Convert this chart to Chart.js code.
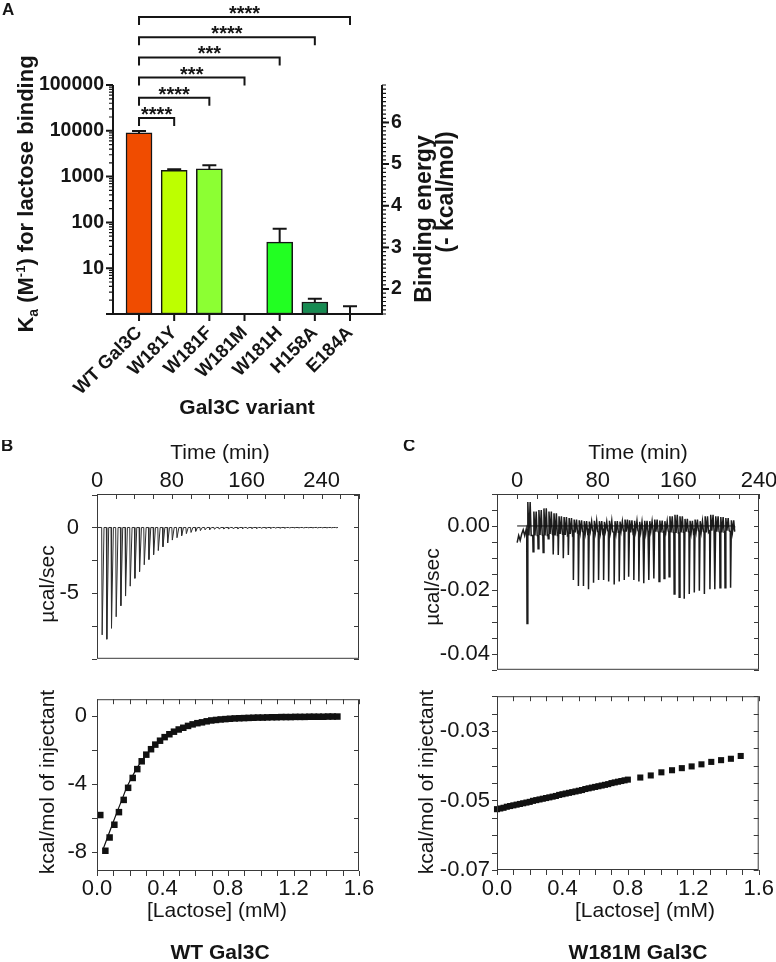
<!DOCTYPE html>
<html>
<head>
<meta charset="utf-8">
<script src="https://cdn.jsdelivr.net/npm/chart.js@4.4.1/dist/chart.umd.min.js"></script>
<style>
  html, body { margin: 0; padding: 0; background: #fff; width: 776px; height: 962px; overflow: hidden; }
  canvas { position: absolute; }
</style>
</head>
<body>
<canvas id="panelA" width="470" height="430" style="left:0px;top:0px"></canvas>
<canvas id="bTop" width="390" height="250" style="left:0px;top:440px"></canvas>
<canvas id="bBot" width="390" height="286" style="left:0px;top:676px"></canvas>
<canvas id="cTop" width="390" height="250" style="left:390px;top:440px"></canvas>
<canvas id="cBot" width="390" height="286" style="left:390px;top:676px"></canvas>
<script>
// ---- panel A : association constants ----
const variants = ['WT Gal3C', 'W181Y', 'W181F', 'W181M', 'W181H', 'H158A', 'E184A'];
const kaMean = [9000, 1370, 1470, null, 37, 1.83, null];
const kaErrTop = [9900, 1440, 1760, null, 73, 2.16, 1.47];
const barColors = ['#f04c00', '#bdff00', '#8cff33', '#55ff55', '#22ff22', '#178b52', '#0b5e33'];
const sigVs = ['W181Y', 'W181F', 'W181M', 'W181H', 'H158A', 'E184A'];
const sigStars = ['****', '****', '***', '***', '****', '****'];
const kaTicks = [10, 100, 1000, 10000, 100000];
const energyTicks = [2, 3, 4, 5, 6];

// ---- panel B : WT Gal3C ITC ----
const bInjTime = [5, 10, 15, 20, 25, 30, 35, 40, 45, 50, 55, 60, 65, 70, 75, 80, 85, 90, 95, 100,
  105, 110, 115, 120, 125, 130, 135, 140, 145, 150, 155, 160, 165, 170, 175, 180, 185, 190, 195, 200,
  205, 210, 215, 220, 225, 230, 235, 240, 245, 250, 255];
const bPeak = [-8.18, -8.51, -7.67, -6.80, -5.96, -5.22, -4.47, -3.87, -3.36, -2.84, -2.44, -2.07, -1.76,
  -1.47, -1.18, -0.96, -0.78, -0.62, -0.47, -0.38, -0.29, -0.24, -0.18, -0.16, -0.13, -0.12, -0.11,
  -0.10, -0.09, -0.09, -0.08, -0.08, -0.07, -0.07, -0.06, -0.06, -0.06, -0.05, -0.05, -0.05, -0.04,
  -0.04, -0.04, -0.04, -0.03, -0.03, -0.03, -0.03, -0.03, -0.02, -0.02];
const bTraceSpan = [0.7, 257];
const bConc = [0.020, 0.051, 0.077, 0.106, 0.134, 0.163, 0.190, 0.218, 0.246, 0.273, 0.301, 0.330, 0.356,
  0.385, 0.413, 0.442, 0.470, 0.499, 0.527, 0.556, 0.584, 0.613, 0.641, 0.670, 0.698, 0.727, 0.755,
  0.784, 0.812, 0.841, 0.869, 0.898, 0.926, 0.955, 0.983, 1.012, 1.040, 1.069, 1.097, 1.126, 1.154,
  1.183, 1.211, 1.240, 1.268, 1.297, 1.325, 1.354, 1.382, 1.411, 1.439, 1.468];
const bHeat = [-5.81, -7.91, -7.13, -6.38, -5.64, -4.92, -4.21, -3.63, -3.11, -2.65, -2.26, -1.94, -1.67,
  -1.44, -1.23, -1.06, -0.91, -0.78, -0.68, -0.57, -0.48, -0.41, -0.36, -0.30, -0.25, -0.22, -0.19,
  -0.17, -0.15, -0.13, -0.12, -0.11, -0.10, -0.09, -0.08, -0.08, -0.07, -0.06, -0.06, -0.05, -0.05,
  -0.05, -0.04, -0.04, -0.04, -0.03, -0.03, -0.03, -0.03, -0.02, -0.02, -0.02];
const bFitConc = [0.040, 0.065, 0.093, 0.122, 0.152, 0.180, 0.210, 0.240, 0.270, 0.300, 0.350, 0.400,
  0.450, 0.500, 0.600, 0.700, 0.800, 1.000, 1.200, 1.480];
const bFitHeat = [-7.75, -7.10, -6.38, -5.64, -4.92, -4.21, -3.63, -3.11, -2.65, -2.26, -1.73, -1.32,
  -1.03, -0.78, -0.45, -0.26, -0.16, -0.08, -0.05, -0.03];

// ---- panel C : W181M Gal3C ITC ----
const cPreTime = [0, 1.5, 3, 4.5, 6, 7.5, 9];
const cPreVal = [-0.0052, -0.0030, -0.0045, -0.0025, -0.0012, -0.0030, -0.0010];
const cInjTime = [9.5, 15.5, 20.5, 25.5, 30.5, 35.5, 40.5, 45.5, 50.5, 55.5, 60.5, 65.5, 70.5, 75.5,
  80.5, 85.5, 90.5, 96, 101, 106, 110.5, 115.5, 120.5, 125.5, 130.5, 135.5, 140.5, 145.5, 150.5, 155.5,
  160.5, 165.5, 170.5, 175.5, 180.5, 185.5, 191, 196, 201, 206, 211.5];
const cPeak = [-0.0305, -0.0081, -0.0071, -0.0083, -0.0040, -0.0089, -0.0091, -0.0101, -0.0091, -0.0169,
  -0.0188, -0.0188, -0.0198, -0.0178, -0.0169, -0.0169, -0.0174, -0.0183, -0.0174, -0.0169,
  -0.0159, -0.0169, -0.0174, -0.0179, -0.0169, -0.0164, -0.0174, -0.0164, -0.0159, -0.0213,
  -0.0223, -0.0228, -0.0213, -0.0208, -0.0203, -0.0213, -0.0198, -0.0198, -0.0193, -0.0193, -0.0193];
const cHi = [0.0075, 0.0045, 0.0050, 0.0055, 0.0045, 0.0040, 0.0030, 0.0028, 0.0025, 0.0020,
  0.0018, 0.0015, 0.0014, 0.0016, 0.0015, 0.0013, 0.0016, 0.0015, 0.0014, 0.0020,
  0.0018, 0.0016, 0.0013, 0.0016, 0.0015, 0.0020, 0.0017, 0.0015, 0.0030, 0.0035,
  0.0030, 0.0022, 0.0016, 0.0020, 0.0015, 0.0030, 0.0035, 0.0030, 0.0028, 0.0025, 0.0018];
const cLo = [-0.0030, -0.0030, -0.0028, -0.0030, -0.0025, -0.0030, -0.0025, -0.0028, -0.0025,
  -0.0020, -0.0018, -0.0020, -0.0015, -0.0018, -0.0020, -0.0015, -0.0018, -0.0020, -0.0015,
  -0.0018, -0.0020, -0.0015, -0.0018, -0.0020, -0.0015, -0.0018, -0.0020, -0.0015, -0.0020,
  -0.0022, -0.0020, -0.0018, -0.0020, -0.0015, -0.0018, -0.0020, -0.0015, -0.0018, -0.0020,
  -0.0015, -0.0018];
const cPostTime = [214.5, 216];
const cPostVal = [0.0008, -0.0005];
const cBaseSpan = [0, 216];
const cConc = [0.00, 0.02, 0.04, 0.06, 0.08, 0.10, 0.12, 0.14, 0.16, 0.18, 0.20, 0.22, 0.24, 0.26,
  0.28, 0.30, 0.32, 0.34, 0.36, 0.38, 0.40, 0.42, 0.44, 0.46, 0.48, 0.50, 0.52, 0.54, 0.56, 0.58,
  0.60, 0.62, 0.64, 0.66, 0.68, 0.70, 0.72, 0.74, 0.76, 0.78, 0.80,
  0.876, 0.940, 1.005, 1.070, 1.130, 1.190, 1.250, 1.310, 1.370, 1.430, 1.490];
const cHeat = [-0.0525, -0.0523, -0.0521, -0.0518, -0.0516, -0.0514, -0.0512, -0.0510, -0.0508,
  -0.0506, -0.0504, -0.0501, -0.0499, -0.0497, -0.0495, -0.0493, -0.0491, -0.0489, -0.0487,
  -0.0484, -0.0482, -0.0480, -0.0478, -0.0476, -0.0474, -0.0472, -0.0470, -0.0467, -0.0465,
  -0.0463, -0.0461, -0.0459, -0.0457, -0.0455, -0.0453, -0.0450, -0.0448, -0.0446, -0.0444,
  -0.0442, -0.0440,
  -0.0434, -0.0428, -0.0419, -0.0413, -0.0407, -0.0402, -0.0396, -0.0389, -0.0384, -0.0380, -0.0372];

const timeTicks = [0, 80, 160, 240];
const bPowerTicks = [0, -5];
const bHeatTicks = [0, -4, -8];
const concTicks = [0, 0.4, 0.8, 1.2, 1.6];
const cPowerTicks = [0, -0.02, -0.04];
const cHeatTicks = [-0.03, -0.05, -0.07];

const FAM = '"Liberation Sans", Arial, sans-serif';
const INK = '#151515';
Chart.defaults.font.family = FAM;
Chart.defaults.color = INK;
Chart.defaults.animation = false;
Chart.defaults.plugins.legend.display = false;
Chart.defaults.plugins.tooltip.enabled = false;

const noGrid = {display: false, drawTicks: false, offset: false};

function fixTicks(list) {
  return s => { s.ticks = list.map(v => ({value: v})); };
}

function drawText(ctx, t) {
  ctx.save();
  ctx.translate(t.x, t.y);
  if (t.rot) ctx.rotate(-Math.PI / 2);
  ctx.font = (t.bold ? 'bold ' : '') + t.size + 'px ' + FAM;
  ctx.fillStyle = INK;
  ctx.textAlign = t.align || 'center';
  ctx.textBaseline = t.base || 'middle';
  ctx.fillText(t.s, 0, 0);
  ctx.restore();
}

function steps(min, max, step) {
  const out = [];
  for (let k = Math.ceil(min / step - 1e-9); k * step <= max + 1e-9; k++) out.push(k * step);
  return out;
}

// the Ka axis title needs a subscript and a superscript
function kaTitle(ctx, cx, cy) {
  const parts = [['K', 22, 0], ['a', 14, 5], [' (M', 22, 0], ['-1', 13, -8], [') for lactose binding', 22, 0]];
  ctx.save();
  ctx.translate(cx, cy);
  ctx.rotate(-Math.PI / 2);
  ctx.fillStyle = INK;
  ctx.textAlign = 'left';
  ctx.textBaseline = 'alphabetic';
  let w = 0;
  parts.forEach(p => { ctx.font = 'bold ' + p[1] + 'px ' + FAM; w += ctx.measureText(p[0]).width; });
  let xx = -w / 2;
  parts.forEach(p => {
    ctx.font = 'bold ' + p[1] + 'px ' + FAM;
    ctx.fillText(p[0], xx, 8 + p[2]);
    xx += ctx.measureText(p[0]).width;
  });
  ctx.restore();
}

const panelAExtras = {
  id: 'panelAExtras',
  afterDraw(chart) {
    const {ctx, chartArea: a} = chart;
    const x = chart.scales.x, y = chart.scales.y, yE = chart.scales.yE;
    ctx.save();
    ctx.strokeStyle = INK;
    ctx.lineWidth = 2;
    ctx.beginPath();
    ctx.moveTo(a.left, a.top); ctx.lineTo(a.left, a.bottom + 1);
    ctx.moveTo(a.left - 1, a.bottom); ctx.lineTo(a.right + 1, a.bottom);
    ctx.moveTo(a.right, a.top); ctx.lineTo(a.right, a.bottom + 1);
    // log ticks on the left
    for (let d = 1; d <= 100000; d *= 10) {
      const py = y.getPixelForValue(d);
      ctx.moveTo(a.left - 7, py); ctx.lineTo(a.left, py);
    }
    // energy ticks on the right
    energyTicks.forEach(v => {
      const py = yE.getPixelForValue(v);
      ctx.moveTo(a.right, py); ctx.lineTo(a.right + 7, py);
    });
    // category ticks
    variants.forEach((v, i) => {
      const px = x.getPixelForValue(i);
      ctx.moveTo(px, a.bottom); ctx.lineTo(px, a.bottom + 7);
    });
    ctx.stroke();

    ctx.lineWidth = 1.2;
    ctx.beginPath();
    for (let d = 1; d < 100000; d *= 10) {
      for (let m = 2; m <= 9; m++) {
        const py = y.getPixelForValue(d * m);
        ctx.moveTo(a.left - 4, py); ctx.lineTo(a.left, py);
      }
    }
    steps(yE.min, yE.max, 0.1).forEach(v => {
      const py = yE.getPixelForValue(v);
      ctx.moveTo(a.right, py); ctx.lineTo(a.right + 4, py);
    });
    ctx.stroke();

    // axis numbers
    kaTicks.forEach(v => drawText(ctx, {s: String(v), x: a.left - 9, y: y.getPixelForValue(v),
      size: 19.5, bold: true, align: 'right'}));
    energyTicks.forEach(v => drawText(ctx, {s: String(v), x: a.right + 9, y: yE.getPixelForValue(v),
      size: 19.5, bold: true, align: 'left'}));

    // error bars (upper only)
    ctx.lineWidth = 2;
    ctx.beginPath();
    kaErrTop.forEach((top, i) => {
      if (top == null) return;
      const px = x.getPixelForValue(i);
      const y0 = y.getPixelForValue(kaMean[i] == null ? y.min : kaMean[i]);
      const y1 = y.getPixelForValue(top);
      ctx.moveTo(px, y0); ctx.lineTo(px, y1);
      ctx.moveTo(px - 7, y1); ctx.lineTo(px + 7, y1);
    });
    ctx.stroke();

    // significance brackets against WT
    sigVs.forEach((name, k) => {
      const xs = x.getPixelForValue(0);
      const xe = x.getPixelForValue(variants.indexOf(name));
      const yb = a.top + 33 - 20.2 * k;
      ctx.beginPath();
      ctx.moveTo(xs, yb + 8); ctx.lineTo(xs, yb); ctx.lineTo(xe, yb); ctx.lineTo(xe, yb + 8);
      ctx.stroke();
      drawText(ctx, {s: sigStars[k], x: (xs + xe) / 2, y: yb + 3, size: 20, bold: true, base: 'alphabetic'});
    });

    drawText(ctx, {s: 'A', x: 2, y: 15, size: 17, bold: true, align: 'left', base: 'alphabetic'});
    kaTitle(ctx, 25, 194);
    drawText(ctx, {s: 'Binding energy', x: 425, y: 219, size: 23, bold: true, rot: true});
    drawText(ctx, {s: '(- kcal/mol)', x: 447, y: 192, size: 23, bold: true, rot: true});
    drawText(ctx, {s: 'Gal3C variant', x: 247, y: 408, size: 21, bold: true});
    ctx.restore();
  }
};

new Chart(document.getElementById('panelA'), {
  type: 'bar',
  data: {
    datasets: [{
      data: variants.map((v, i) => ({x: i, y: kaMean[i]})),
      backgroundColor: barColors,
      borderColor: INK,
      borderWidth: 1.5,
      borderSkipped: false,
      barThickness: 26
    }]
  },
  options: {
    responsive: false,
    layout: {padding: {top: 85, left: 0, right: 0, bottom: 0}},
    scales: {
      x: {
        type: 'linear', min: -0.74, max: 6.91, offset: false,
        grid: noGrid, border: {display: false},
        afterBuildTicks: s => { s.ticks = variants.map((v, i) => ({value: i})); },
        afterFit: s => { s.height = 116; },
        ticks: {autoSkip: false, minRotation: 45, maxRotation: 45, padding: 8,
                font: {size: 18.5, weight: 'bold'}, callback: v => variants[v]}
      },
      y: {
        type: 'logarithmic', position: 'left', min: 1, max: 100000,
        grid: noGrid, border: {display: false}, ticks: {display: false},
        afterFit: s => { s.width = 113; }
      },
      yE: {
        type: 'linear', position: 'right', min: 1.4, max: 6.9,
        grid: noGrid, border: {display: false}, ticks: {display: false},
        afterFit: s => { s.width = 88; }
      }
    }
  },
  plugins: [panelAExtras]
});

// ---- ITC panels ----
const itcFrame = {
  id: 'itcFrame',
  afterDraw(chart, args, o) {
    const {ctx, chartArea: a} = chart;
    const x = chart.scales.x, y = chart.scales.y;
    ctx.save();
    ctx.strokeStyle = '#3a3a3a';
    ctx.lineWidth = 1;
    ctx.strokeRect(a.left + 0.5, a.top + 0.5, a.right - a.left - 1, a.bottom - a.top - 1);
    ctx.beginPath();
    steps(x.min, x.max, o.xStep).forEach(v => {
      const px = Math.round(x.getPixelForValue(v)) + 0.5;
      if (o.xTop) {
        ctx.moveTo(px, a.top); ctx.lineTo(px, a.top + 5);
      } else {
        ctx.moveTo(px, a.bottom); ctx.lineTo(px, a.bottom + 5);
        ctx.moveTo(px, a.top); ctx.lineTo(px, a.top + 5);
      }
    });
    steps(y.min, y.max, o.yStep).forEach(v => {
      const py = Math.round(y.getPixelForValue(v)) + 0.5;
      ctx.moveTo(a.left - 5, py); ctx.lineTo(a.left, py);
      ctx.moveTo(a.right - 5, py); ctx.lineTo(a.right, py);
    });
    ctx.stroke();
    (o.texts || []).forEach(t => drawText(ctx, t));
    ctx.restore();
  }
};

function itcAxes(xo, yo) {
  return {
    x: Object.assign({type: 'linear', grid: noGrid, border: {display: false}}, xo),
    y: Object.assign({type: 'linear', grid: noGrid, border: {display: false}}, yo)
  };
}

function spikeTrace() {
  const pts = [{x: bTraceSpan[0], y: 0}];
  bInjTime.forEach((t, i) => {
    pts.push({x: t, y: 0}, {x: t + 0.5, y: bPeak[i]}, {x: t + 2.5, y: 0});
  });
  pts.push({x: bTraceSpan[1], y: 0});
  return pts;
}

function noisyTrace() {
  const pts = cPreTime.map((t, i) => ({x: t, y: cPreVal[i]}));
  cInjTime.forEach((t, i) => {
    pts.push({x: t, y: cLo[i]}, {x: t + 0.3, y: cPeak[i]}, {x: t + 1.1, y: cHi[i]},
             {x: t + 2.2, y: cLo[i]}, {x: t + 3.4, y: cHi[i]}, {x: t + 4.4, y: cLo[i]});
  });
  cPostTime.forEach((t, i) => pts.push({x: t, y: cPostVal[i]}));
  return pts;
}

const traceStyle = {showLine: true, pointRadius: 0, borderColor: '#2e2e2e', borderWidth: 1, clip: false};

// B top: raw heat rate
new Chart(document.getElementById('bTop'), {
  type: 'scatter',
  data: {datasets: [Object.assign({data: spikeTrace()}, traceStyle)]},
  options: {
    responsive: false,
    layout: {padding: {top: 0, left: 0, right: 31, bottom: 8}},
    scales: itcAxes(
      {position: 'top', min: 0, max: 280, afterBuildTicks: fixTicks(timeTicks),
       afterFit: s => { s.height = 54; }, ticks: {autoSkip: false, font: {size: 22}, padding: 0}},
      {min: -10, max: 2.55, afterBuildTicks: fixTicks(bPowerTicks),
       afterFit: s => { s.width = 97; }, ticks: {font: {size: 22}, padding: 18}}
    ),
    plugins: {itcFrame: {xTop: true, xStep: 20, yStep: 2.5, texts: [
      {s: 'B', x: 1, y: 11, size: 17, bold: true, align: 'left', base: 'alphabetic'},
      {s: 'Time (min)', x: 220, y: 13, size: 21},
      {s: 'µcal/sec', x: 48, y: 144, size: 21, rot: true}
    ]}}
  },
  plugins: [itcFrame]
});

// B bottom: integrated heats
new Chart(document.getElementById('bBot'), {
  type: 'scatter',
  data: {datasets: [
    {data: bConc.map((c, i) => ({x: c, y: bHeat[i]})), pointStyle: 'rect', pointRadius: 4.6,
     backgroundColor: '#111', borderColor: '#111', borderWidth: 0, clip: false},
    Object.assign({}, traceStyle, {data: bFitConc.map((c, i) => ({x: c, y: bFitHeat[i]})), borderColor: '#111', borderWidth: 1.2})
  ]},
  options: {
    responsive: false,
    layout: {padding: {top: 6, left: 0, right: 31, bottom: 0}},
    scales: itcAxes(
      {position: 'bottom', min: 0, max: 1.6, afterBuildTicks: fixTicks(concTicks),
       afterFit: s => { s.height = 91; }, ticks: {autoSkip: false, font: {size: 22}, padding: 5, callback: v => v.toFixed(1)}},
      {min: -9.1, max: 1.0, afterBuildTicks: fixTicks(bHeatTicks),
       afterFit: s => { s.width = 97; }, ticks: {font: {size: 22}, padding: 10}}
    ),
    plugins: {itcFrame: {xTop: false, xStep: 0.1, yStep: 2, texts: [
      {s: 'kcal/mol of injectant', x: 48, y: 106, size: 21, rot: true},
      {s: '[Lactose] (mM)', x: 217, y: 235, size: 21},
      {s: 'WT Gal3C', x: 220, y: 277, size: 21, bold: true}
    ]}}
  },
  plugins: [itcFrame]
});

// C top: raw heat rate
new Chart(document.getElementById('cTop'), {
  type: 'scatter',
  data: {datasets: [
    Object.assign({}, traceStyle, {data: cBaseSpan.map(t => ({x: t, y: 0})), borderColor: '#111'}),
    Object.assign({}, traceStyle, {data: noisyTrace(), borderColor: '#1c1c1c', borderWidth: 1.5})
  ]},
  options: {
    responsive: false,
    layout: {padding: {top: 0, left: 0, right: 21, bottom: 8}},
    scales: itcAxes(
      {position: 'top', min: -20, max: 240, afterBuildTicks: fixTicks(timeTicks),
       afterFit: s => { s.height = 54; }, ticks: {autoSkip: false, font: {size: 22}, padding: 0}},
      {min: -0.045, max: 0.01, afterBuildTicks: fixTicks(cPowerTicks),
       afterFit: s => { s.width = 107; }, ticks: {font: {size: 22}, padding: 7, callback: v => v.toFixed(2)}}
    ),
    plugins: {itcFrame: {xTop: true, xStep: 20, yStep: 0.005, texts: [
      {s: 'C', x: 13, y: 11, size: 17, bold: true, align: 'left', base: 'alphabetic'},
      {s: 'Time (min)', x: 248, y: 13, size: 21},
      {s: 'µcal/sec', x: 43, y: 147, size: 21, rot: true}
    ]}}
  },
  plugins: [itcFrame]
});

// C bottom: integrated heats
new Chart(document.getElementById('cBot'), {
  type: 'scatter',
  data: {datasets: [
    {data: cConc.map((c, i) => ({x: c, y: cHeat[i]})), pointStyle: 'rect', pointRadius: 4.3,
     backgroundColor: '#111', borderColor: '#111', borderWidth: 0, clip: false}
  ]},
  options: {
    responsive: false,
    layout: {padding: {top: 6, left: 0, right: 21, bottom: 0}},
    scales: itcAxes(
      {position: 'bottom', min: 0, max: 1.6, afterBuildTicks: fixTicks(concTicks),
       afterFit: s => { s.height = 92; }, ticks: {autoSkip: false, font: {size: 22}, padding: 6, callback: v => v.toFixed(1)}},
      {min: -0.07, max: -0.02, afterBuildTicks: fixTicks(cHeatTicks),
       afterFit: s => { s.width = 107; }, ticks: {font: {size: 22}, padding: 7, callback: v => v.toFixed(2)}}
    ),
    plugins: {itcFrame: {xTop: false, xStep: 0.1, yStep: 0.005, texts: [
      {s: 'kcal/mol of injectant', x: 37, y: 106, size: 21, rot: true},
      {s: '[Lactose] (mM)', x: 255, y: 235, size: 21},
      {s: 'W181M Gal3C', x: 248, y: 277, size: 21, bold: true}
    ]}}
  },
  plugins: [itcFrame]
});
</script>
</body>
</html>
